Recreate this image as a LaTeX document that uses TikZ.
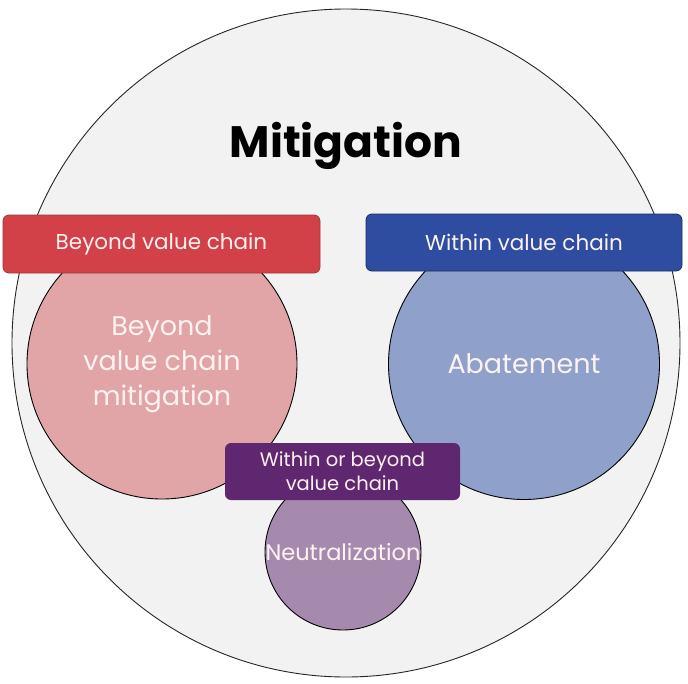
\documentclass[tikz,border=0pt]{standalone}
\usepackage{fontspec}
\setmainfont{Poppins}
\definecolor{bgc}{HTML}{F2F2F2}
\definecolor{pinkc}{HTML}{E2A5A7}
\definecolor{bluec}{HTML}{8FA1CB}
\definecolor{purpc}{HTML}{A68AAE}
\definecolor{redbox}{HTML}{D14147}
\definecolor{redline}{HTML}{9E3A36}
\definecolor{bluebox}{HTML}{2E4DA1}
\definecolor{blueline}{HTML}{1D2D63}
\definecolor{purpbox}{HTML}{5F276F}
\definecolor{txtc}{HTML}{FDF2F2}
\begin{document}
\begin{tikzpicture}[x=1pt,y=-1pt,
  circ/.style={circle,draw=black,line width=0.9pt,inner sep=0pt,text=txtc,align=center},
  lbl/.style={rectangle,rounded corners=6pt,inner sep=0pt,text=txtc,align=center,font=\fontsize{21.5}{24}\selectfont}]
\useasboundingbox (0,0) rectangle (688,683);
\node[circle,draw=black!85,line width=0.9pt,fill=bgc,minimum size=668pt,inner sep=0pt] (mit) at (346,343) {};
\node[font=\fontsize{44}{52}\selectfont\bfseries] (title) at (346,146) {Mitigation};
\node[circ,fill=pinkc,minimum size=270pt,font=\fontsize{27}{35}\selectfont] (bvcm) at (162,364) {Beyond\\value chain\\mitigation};
\node[circ,fill=bluec,minimum size=271pt,font=\fontsize{27}{35}\selectfont] (abat) at (524,364) {Abatement};
\node[circ,fill=purpc,minimum size=156pt,font=\fontsize{22.5}{24}\selectfont] (neut) at (343,552) {Neutralization};
\node[lbl,fill=redbox,draw=redline,line width=0.8pt,minimum width=317pt,minimum height=58pt] (bvc) at (161.5,244) {Beyond value chain};
\node[lbl,fill=bluebox,draw=blueline,line width=0.8pt,minimum width=316pt,minimum height=57pt] (wvc) at (524,242.5) {Within value chain};
\node[lbl,fill=purpbox,minimum width=235pt,minimum height=57pt,font=\fontsize{19.5}{24}\selectfont] (wob) at (342.5,471.5) {Within or beyond\\value chain};
\end{tikzpicture}
\end{document}
